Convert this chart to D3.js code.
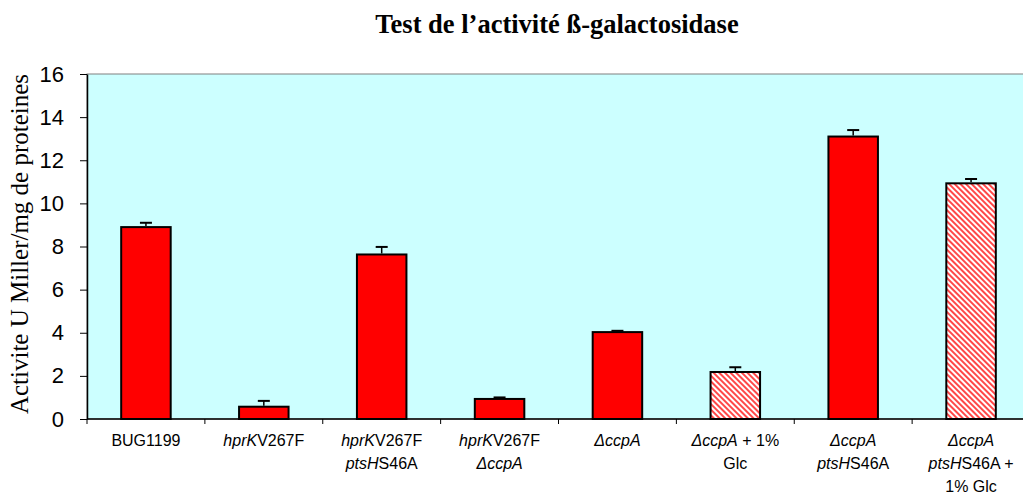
<!DOCTYPE html>
<html>
<head>
<meta charset="utf-8">
<script src="https://cdn.jsdelivr.net/npm/d3@7"></script>
<style>
  html, body { margin: 0; padding: 0; background: #fff; }
  svg { display: block; }
</style>
</head>
<body>
<svg id="chart" width="1023" height="498"></svg>
<script>
// Strain labels: each is a list of lines, each line a list of [text, italic] runs
const categories = [
  [[["BUG1199", false]]],
  [[["hprK", true], ["V267F", false]]],
  [[["hprK", true], ["V267F", false]], [["ptsH", true], ["S46A", false]]],
  [[["hprK", true], ["V267F", false]], [["\u0394ccpA", true]]],
  [[["\u0394ccpA", true]]],
  [[["\u0394ccpA", true], [" + 1%", false]], [["Glc", false]]],
  [[["\u0394ccpA", true]], [["ptsH", true], ["S46A", false]]],
  [[["\u0394ccpA", true]], [["ptsH", true], ["S46A +", false]], [["1% Glc", false]]]
];
const values = [8.9, 0.57, 7.63, 0.93, 4.03, 2.18, 13.1, 10.93];
const errors = [0.2, 0.27, 0.35, 0.07, 0.06, 0.22, 0.3, 0.2];
const glucose = [false, false, false, false, false, true, false, true];
const yTicks = [0, 2, 4, 6, 8, 10, 12, 14, 16];

const svg = d3.select("#chart");
const margin = { left: 87, top: 74, bottom: 419 };
const plotRight = 1030;

// Diagonal red hatch for the glucose conditions
const defs = svg.append("defs");
const pat = defs.append("pattern")
  .attr("id", "hatch")
  .attr("patternUnits", "userSpaceOnUse")
  .attr("width", 4).attr("height", 4)
  .attr("patternTransform", "rotate(-45)");
pat.append("rect").attr("width", 4).attr("height", 4).attr("fill", "#fff");
pat.append("rect").attr("width", 2).attr("height", 4).attr("fill", "#ff4848");

const x = d3.scaleBand()
  .domain(d3.range(categories.length))
  .range([margin.left, plotRight])
  .paddingInner(0.58).paddingOuter(0.29);
const band = d3.scaleBand()
  .domain(d3.range(categories.length))
  .range([margin.left, plotRight]);
const y = d3.scaleLinear().domain([0, 16]).range([margin.bottom, margin.top]);

// Plot background
svg.append("rect")
  .attr("x", margin.left).attr("y", margin.top)
  .attr("width", plotRight - margin.left).attr("height", margin.bottom - margin.top)
  .attr("fill", "#ccffff").attr("stroke", "#808080").attr("stroke-width", 1);

// Title
svg.append("text")
  .attr("x", 557).attr("y", 33)
  .attr("text-anchor", "middle")
  .attr("font-family", "Liberation Serif, Times New Roman, serif")
  .attr("font-weight", "bold").attr("font-size", 26.5)
  .text("Test de l\u2019activit\u00e9 \u00df-galactosidase");

// Y axis title
svg.append("text")
  .attr("transform", "translate(28,244) rotate(-90)")
  .attr("text-anchor", "middle")
  .attr("font-family", "Liberation Serif, Times New Roman, serif")
  .attr("font-size", 25)
  .text("Activite U Miller/mg de proteines");

// Bars
svg.selectAll("rect.bar").data(values).join("rect")
  .attr("class", "bar")
  .attr("x", (d, i) => x(i))
  .attr("y", d => y(d))
  .attr("width", x.bandwidth())
  .attr("height", d => y(0) - y(d))
  .attr("fill", (d, i) => glucose[i] ? "url(#hatch)" : "#ff0000")
  .attr("stroke", "#000").attr("stroke-width", 2);

// Error bars (upper half only)
const eb = svg.selectAll("g.err").data(values).join("g").attr("class", "err");
eb.append("line")
  .attr("x1", (d, i) => x(i) + x.bandwidth() / 2)
  .attr("x2", (d, i) => x(i) + x.bandwidth() / 2)
  .attr("y1", d => y(d) - 1)
  .attr("y2", (d, i) => y(d + errors[i]))
  .attr("stroke", "#000").attr("stroke-width", 1.5);
eb.append("line")
  .attr("x1", (d, i) => x(i) + x.bandwidth() / 2 - 6)
  .attr("x2", (d, i) => x(i) + x.bandwidth() / 2 + 6)
  .attr("y1", (d, i) => y(d + errors[i]))
  .attr("y2", (d, i) => y(d + errors[i]))
  .attr("stroke", "#000").attr("stroke-width", 2);

// Y axis
const yAxis = svg.append("g")
  .attr("transform", `translate(${margin.left},0)`)
  .call(d3.axisLeft(y).tickValues(yTicks).tickSize(7).tickPadding(16).tickSizeOuter(0));
yAxis.select(".domain").attr("stroke", "#000").attr("stroke-width", 1.5);
yAxis.selectAll(".tick line").attr("stroke", "#000");
yAxis.selectAll(".tick text")
  .attr("font-family", "Liberation Sans, Arial, sans-serif")
  .attr("font-size", 22).attr("fill", "#000");

// X axis line and boundary ticks
svg.append("line")
  .attr("x1", margin.left).attr("x2", plotRight)
  .attr("y1", margin.bottom).attr("y2", margin.bottom)
  .attr("stroke", "#000").attr("stroke-width", 1.5);
svg.selectAll("line.xt").data(d3.range(categories.length + 1)).join("line")
  .attr("class", "xt")
  .attr("x1", i => margin.left + i * band.step())
  .attr("x2", i => margin.left + i * band.step())
  .attr("y1", margin.bottom).attr("y2", margin.bottom + 5)
  .attr("stroke", "#000");

// Category labels with italic gene names
categories.forEach((lines, i) => {
  const t = svg.append("text")
    .attr("text-anchor", "middle")
    .attr("font-family", "Liberation Sans, Arial, sans-serif")
    .attr("font-size", 16);
  lines.forEach((runs, li) => {
    runs.forEach(([txt, it], ri) => {
      const s = t.append("tspan").text(txt).attr("font-style", it ? "italic" : "normal");
      if (ri === 0) s.attr("x", band(i) + band.bandwidth() / 2).attr("y", 446 + li * 23);
    });
  });
});
</script>
</body>
</html>
